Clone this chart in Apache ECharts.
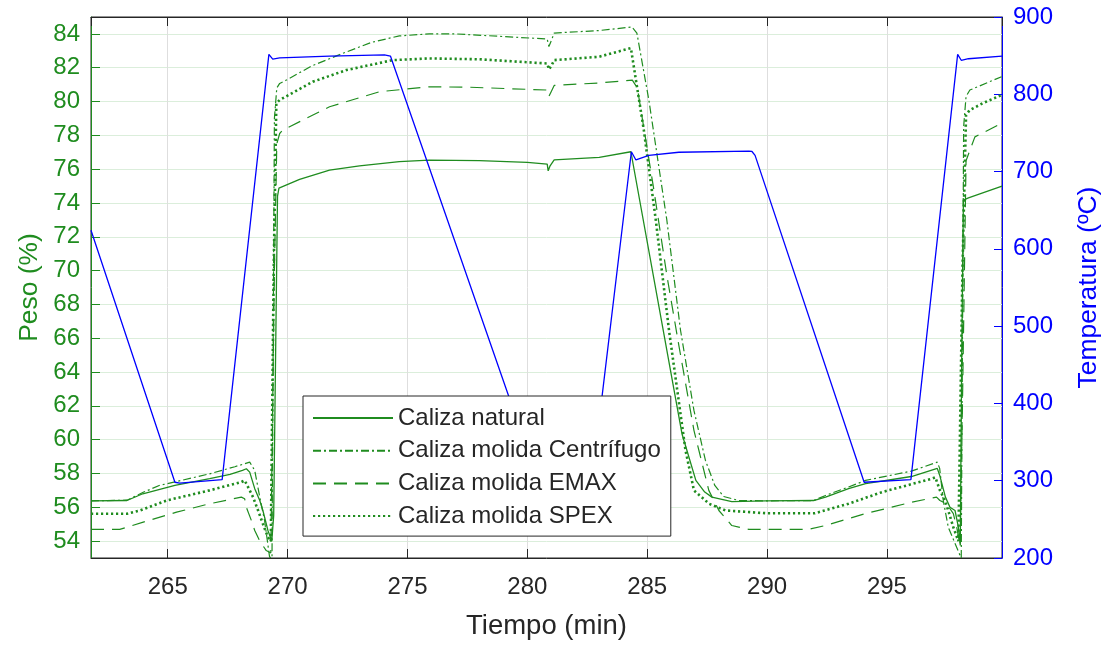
<!DOCTYPE html>
<html><head><meta charset="utf-8">
<script src="https://cdn.jsdelivr.net/npm/echarts@6/dist/echarts.min.js"></script>
<style>html,body{margin:0;padding:0;background:#fff}#c{width:1110px;height:646px}</style>
</head><body><div id="c"></div>
<script>
// ---- data (time in min, weight in %, temperature in ºC) ----
const natT = [261.8, 263.3, 263.96, 265.3, 266.75, 267.6, 268.12, 268.28, 268.42, 268.63, 268.84, 268.97, 269.18, 269.34, 269.42, 269.5, 269.58, 269.64, 270.5, 271.75, 273.0, 274.66, 275.91, 278.0, 280.0, 280.83, 280.87, 280.95, 281.12, 283.0, 284.32, 286.45, 287.03, 287.4, 287.7, 288.53, 289.94, 291.94, 292.44, 293.4, 294.11, 296.02, 297.1, 297.2, 297.44, 297.63, 297.84, 297.98, 298.06, 298.12, 298.19, 298.4, 299.8];
const natP = [56.38, 56.4, 56.8, 57.3, 57.69, 57.95, 58.18, 58.28, 58.08, 57.1, 56.4, 55.81, 54.63, 54.0, 55.5, 65.0, 74.4, 74.88, 75.4, 75.94, 76.2, 76.45, 76.53, 76.5, 76.4, 76.3, 75.9, 76.2, 76.55, 76.7, 77.03, 60.35, 57.59, 56.9, 56.6, 56.34, 56.38, 56.4, 56.6, 57.1, 57.4, 57.82, 58.3, 57.9, 56.6, 56.0, 55.81, 54.82, 53.74, 65.0, 74.17, 74.3, 75.0];

const cenT = [261.8, 263.3, 264.0, 264.67, 265.3, 266.75, 267.8, 268.42, 268.63, 268.84, 269.04, 269.25, 269.35, 269.45, 269.55, 269.67, 269.95, 271.0, 272.3, 273.5, 274.66, 275.91, 277.0, 280.83, 280.9, 281.0, 281.12, 283.0, 284.36, 284.57, 285.07, 285.82, 286.39, 286.95, 287.43, 287.82, 288.19, 288.82, 289.94, 291.94, 292.44, 293.4, 294.11, 296.02, 297.1, 297.2, 297.35, 297.56, 298.05, 298.1, 298.2, 298.3, 298.46, 299.78];
const cenP = [56.38, 56.42, 56.9, 57.3, 57.5, 57.98, 58.4, 58.67, 58.18, 56.6, 55.22, 53.05, 53.0, 79.0, 80.8, 81.07, 81.27, 82.1, 82.85, 83.5, 83.88, 84.0, 84.0, 83.7, 83.25, 83.6, 84.05, 84.2, 84.41, 84.05, 80.09, 72.98, 66.47, 61.73, 58.77, 57.29, 56.64, 56.4, 56.38, 56.4, 56.7, 57.2, 57.59, 58.14, 58.67, 58.3, 56.4, 54.82, 53.15, 53.0, 78.5, 80.3, 80.68, 81.47];

const emaT = [261.8, 263.0, 263.98, 265.37, 266.75, 268.07, 268.21, 268.28, 268.49, 268.63, 268.84, 269.11, 269.3, 269.45, 269.55, 269.67, 269.8, 271.75, 273.83, 275.91, 277.5, 280.83, 280.9, 281.0, 281.12, 283.0, 284.38, 284.59, 285.28, 285.82, 286.32, 286.95, 287.57, 287.99, 288.53, 289.24, 291.73, 292.43, 294.09, 296.03, 297.07, 297.21, 297.49, 297.77, 297.91, 298.05, 298.15, 298.3, 298.67, 299.78];
const emaP = [54.69, 54.69, 55.12, 55.71, 56.21, 56.6, 56.5, 56.0, 55.22, 54.63, 54.0, 53.44, 53.3, 70.0, 77.5, 78.11, 78.31, 79.69, 80.58, 80.87, 80.85, 80.68, 80.3, 80.6, 80.95, 81.1, 81.27, 80.8, 74.76, 69.72, 65.58, 60.55, 57.0, 55.81, 54.92, 54.69, 54.69, 54.92, 55.62, 56.3, 56.6, 56.4, 56.21, 55.62, 54.82, 53.74, 62.0, 76.5, 77.91, 78.71];

const spxT = [261.8, 263.3, 263.84, 264.95, 266.75, 268.07, 268.21, 268.42, 268.56, 268.77, 268.97, 269.18, 269.3, 269.42, 269.53, 269.67, 271.05, 272.45, 274.39, 275.91, 278.0, 280.83, 280.9, 281.0, 281.12, 283.0, 284.32, 284.86, 285.36, 285.91, 286.6, 286.95, 287.58, 288.27, 289.94, 292.0, 292.4, 293.4, 294.8, 296.87, 297.02, 297.21, 297.42, 297.56, 297.77, 297.98, 298.05, 298.15, 298.3, 298.45, 299.0, 299.8];
const spxP = [55.62, 55.62, 55.81, 56.4, 57.0, 57.49, 57.59, 57.0, 56.6, 55.81, 55.02, 54.23, 54.0, 70.0, 79.89, 80.09, 81.17, 81.86, 82.45, 82.55, 82.5, 82.25, 81.9, 82.1, 82.45, 82.65, 83.16, 78.31, 72.98, 66.47, 59.36, 57.0, 56.21, 55.81, 55.65, 55.65, 55.81, 56.21, 56.9, 57.69, 57.77, 57.0, 56.4, 55.8, 54.82, 54.0, 54.0, 70.0, 79.2, 79.49, 79.9, 80.4];

const tmpT = [261.8, 265.3, 265.5, 267.27, 269.22, 269.38, 269.67, 271.75, 274.04, 274.29, 280.45, 282.7, 284.34, 284.53, 285.07, 286.32, 289.24, 289.37, 289.5, 294.05, 296.0, 297.95, 298.1, 298.4, 299.8];
const tmpV = [624, 298, 297, 301.5, 851.7, 845.6, 847, 849.5, 851, 849.5, 300, 301, 725.6, 715, 721, 725, 726.5, 726, 721, 298, 301.5, 851.7, 844, 846, 849.5];

const seriesNames = ['Caliza natural', 'Caliza molida Centrífugo', 'Caliza molida EMAX', 'Caliza molida SPEX'];

// ---- chart ----
const GREEN = '#1f8c1f';
const BLUE = '#0000ff';
const DARK = '#262626';
const FONT = '"Liberation Sans", Arial, Helvetica, sans-serif';
const pairs = (t, v) => t.map((x, i) => [x, v[i]]);

const chart = echarts.init(document.getElementById('c'), null, {renderer: 'canvas'});
const xCommon = {type: 'value', min: 261.8, max: 299.8, splitNumber: 8};
chart.setOption({
  animation: false,
  textStyle: {fontFamily: FONT},
  grid: {left: 91, right: 106, top: 17, bottom: 88, show: true, borderColor: DARK, borderWidth: 1, backgroundColor: '#fff'},
  xAxis: [
    Object.assign({}, xCommon, {
      position: 'bottom',
      name: 'Tiempo (min)', nameLocation: 'middle', nameGap: 54,
      nameTextStyle: {color: DARK, fontSize: 27.5, fontFamily: FONT},
      axisLine: {lineStyle: {color: DARK, width: 1}},
      axisTick: {inside: true, length: 9, lineStyle: {color: DARK}},
      axisLabel: {color: DARK, fontSize: 24, margin: 17, showMinLabel: false, showMaxLabel: false, fontFamily: FONT},
      splitLine: {show: true, lineStyle: {color: '#dedede', width: 1}}
    }),
    Object.assign({}, xCommon, {
      position: 'top',
      axisLine: {show: true, lineStyle: {color: DARK, width: 1}},
      axisTick: {show: true, inside: true, length: 9, lineStyle: {color: DARK}},
      axisLabel: {show: false},
      splitLine: {show: false}
    })
  ],
  yAxis: [
    {
      type: 'value', min: 53, max: 85, splitNumber: 16, position: 'left',
      name: 'Peso (%)', nameLocation: 'middle', nameGap: 47, nameRotate: 90,
      nameTextStyle: {color: GREEN, fontSize: 26.4, fontFamily: FONT},
      axisLine: {show: true, lineStyle: {color: GREEN, width: 1}},
      axisTick: {show: true, inside: true, length: 9, lineStyle: {color: GREEN}},
      axisLabel: {color: GREEN, fontSize: 24, margin: 11, showMinLabel: false, showMaxLabel: false, fontFamily: FONT},
      splitLine: {show: true, lineStyle: {color: '#dbeedb', width: 1}}
    },
    {
      type: 'value', min: 200, max: 900, interval: 100, position: 'right',
      name: 'Temperatura (ºC)', nameLocation: 'middle', nameGap: 74, nameRotate: 90,
      nameTextStyle: {color: BLUE, fontSize: 26.4, fontFamily: FONT},
      axisLine: {show: true, lineStyle: {color: BLUE, width: 1}},
      axisTick: {show: true, inside: true, length: 8, lineStyle: {color: BLUE}},
      axisLabel: {color: BLUE, fontSize: 24, margin: 11, fontFamily: FONT},
      splitLine: {show: false}
    }
  ],
  legend: {
    data: seriesNames,
    orient: 'vertical', left: 303, top: 396,
    padding: [10, 10, 8, 9],
    itemWidth: 80, itemHeight: 14, itemGap: 8.7,
    itemStyle: {opacity: 0, borderWidth: 0, color: 'rgba(0,0,0,0)'},
    backgroundColor: '#fff', borderColor: DARK, borderWidth: 1, borderRadius: 0,
    textStyle: {color: DARK, fontSize: 24, lineHeight: 24, fontFamily: FONT},
    selectedMode: false
  },
  series: [
    {name: seriesNames[0], type: 'line', yAxisIndex: 0, symbol: 'none', data: pairs(natT, natP),
     lineStyle: {color: GREEN, width: 1.3, type: 'solid'}, itemStyle: {color: GREEN}},
    {name: seriesNames[1], type: 'line', yAxisIndex: 0, symbol: 'none', data: pairs(cenT, cenP),
     lineStyle: {color: GREEN, width: 1.2, type: [8, 3, 2, 3]}, itemStyle: {color: GREEN}},
    {name: seriesNames[2], type: 'line', yAxisIndex: 0, symbol: 'none', data: pairs(emaT, emaP),
     lineStyle: {color: GREEN, width: 1.2, type: [13, 8]}, itemStyle: {color: GREEN}},
    {name: seriesNames[3], type: 'line', yAxisIndex: 0, symbol: 'none', data: pairs(spxT, spxP),
     lineStyle: {color: GREEN, width: 2.6, type: [2.2, 2.8]}, itemStyle: {color: GREEN}},
    {name: 'Temperatura', type: 'line', yAxisIndex: 1, symbol: 'none', data: pairs(tmpT, tmpV),
     lineStyle: {color: BLUE, width: 1.3}, itemStyle: {color: BLUE}}
  ]
});
</script>
</body></html>
